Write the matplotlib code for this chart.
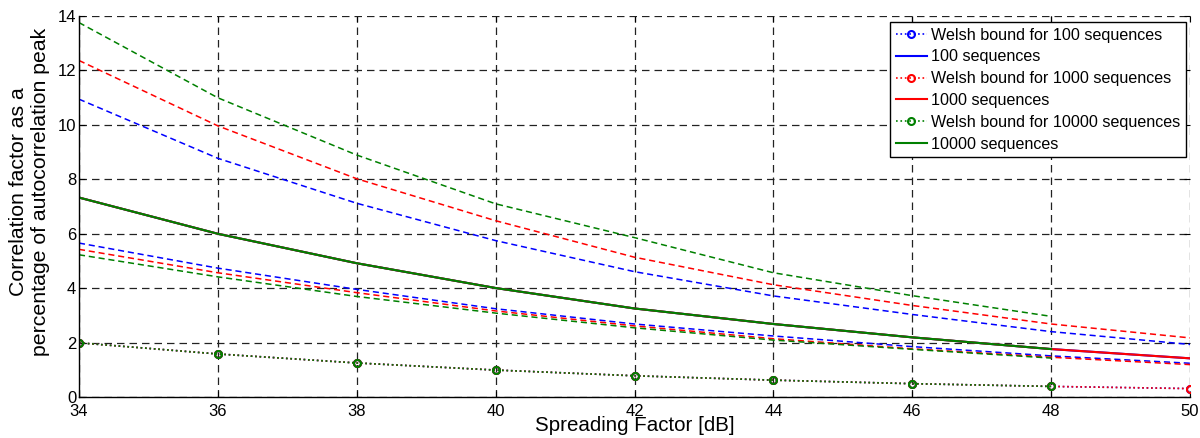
import matplotlib
matplotlib.use("Agg")
import matplotlib.pyplot as plt

plt.rcParams['font.family'] = ['Liberation Sans', 'DejaVu Sans']

sf = [34, 36, 38, 40, 42, 44, 46, 48, 50]
sf_g = [34, 36, 38, 40, 42, 44, 46, 48]

welsh_100 = [2.0, 1.59, 1.26, 1.0, 0.79, 0.63, 0.50, 0.40, 0.32]
welsh_1000 = [2.0, 1.59, 1.26, 1.0, 0.79, 0.63, 0.50, 0.40, 0.32]
welsh_10000 = [2.0, 1.59, 1.26, 1.0, 0.79, 0.63, 0.50, 0.40]

seq_100 = [7.33, 6.0, 4.92, 4.01, 3.26, 2.69, 2.20, 1.77, 1.43]
seq_1000 = [7.33, 6.0, 4.92, 4.01, 3.26, 2.69, 2.20, 1.77, 1.43]
seq_10000 = [7.33, 6.0, 4.92, 4.01, 3.26, 2.69, 2.20, 1.77]

upper_100 = [10.94, 8.77, 7.12, 5.75, 4.61, 3.72, 3.04, 2.41, 1.94]
upper_1000 = [12.36, 9.96, 8.02, 6.48, 5.14, 4.13, 3.37, 2.69, 2.18]
upper_10000 = [13.75, 10.99, 8.89, 7.10, 5.86, 4.57, 3.73, 2.97]

lower_100 = [5.66, 4.74, 3.96, 3.25, 2.69, 2.25, 1.86, 1.52, 1.25]
lower_1000 = [5.43, 4.57, 3.84, 3.17, 2.62, 2.15, 1.78, 1.47, 1.20]
lower_10000 = [5.23, 4.42, 3.70, 3.09, 2.55, 2.10, 1.76, 1.44]

labels = ['Welsh bound for 100 sequences', '100 sequences',
          'Welsh bound for 1000 sequences', '1000 sequences',
          'Welsh bound for 10000 sequences', '10000 sequences']

fig = plt.figure(figsize=(12, 4.38), dpi=100)
ax = fig.add_axes([0.0658, 0.0929, 0.9259, 0.8711])

cols = {'b': '#0000ff', 'r': '#ff0000', 'g': '#008000'}
dash = (0, (4, 2.5))

ax.plot(sf, welsh_100, linestyle=':', color=cols['b'], marker='o', mfc='none', ms=5, mew=1.5, lw=1.2, label=labels[0])
ax.plot(sf, seq_100, '-', color=cols['b'], lw=1.5, label=labels[1])
ax.plot(sf, welsh_1000, linestyle=':', color=cols['r'], marker='o', mfc='none', ms=5, mew=1.5, lw=1.2, label=labels[2])
ax.plot(sf, seq_1000, '-', color=cols['r'], lw=1.5, label=labels[3])
ax.plot(sf_g, welsh_10000, linestyle=':', color=cols['g'], marker='o', mfc='none', ms=5, mew=1.5, lw=1.2, label=labels[4])
ax.plot(sf_g, seq_10000, '-', color=cols['g'], lw=1.5, label=labels[5])

ax.plot(sf, upper_100, linestyle=dash, color=cols['b'], lw=1.1)
ax.plot(sf, lower_100, linestyle=dash, color=cols['b'], lw=1.1)
ax.plot(sf, upper_1000, linestyle=dash, color=cols['r'], lw=1.1)
ax.plot(sf, lower_1000, linestyle=dash, color=cols['r'], lw=1.1)
ax.plot(sf_g, upper_10000, linestyle=dash, color=cols['g'], lw=1.1)
ax.plot(sf_g, lower_10000, linestyle=dash, color=cols['g'], lw=1.1)

ax.set_xlim(34, 50)
ax.set_ylim(0, 14)
ax.set_xticks(sf)
ax.set_yticks(range(0, 15, 2))
ax.grid(True, color='#222222', linestyle=(0, (6, 4)), lw=0.9)
ax.tick_params(direction='in', labelsize=12, length=4, top=True, right=True)
ax.tick_params(axis='x', pad=4.5)
ax.tick_params(axis='y', pad=2)
for s in ['top', 'right']:
    ax.spines[s].set_visible(False)
for s in ['left', 'bottom']:
    ax.spines[s].set_linewidth(1.0)

ax.set_xlabel('Spreading Factor [dB]', fontsize=14.8, labelpad=-1.5)
ax.set_ylabel('Correlation factor as a\npercentage of autocorrelation peak', fontsize=15.3)
ax.yaxis.set_label_coords(-0.026, 0.538)

leg = ax.legend(loc='upper right', fontsize=11.6, frameon=True, fancybox=False,
                edgecolor='black', framealpha=1, handlelength=1.95, handletextpad=0.25,
                labelspacing=0.42, borderpad=0.35, borderaxespad=0,
                bbox_to_anchor=(0.9964, 0.9835))
leg.get_frame().set_linewidth(1.0)

fig.savefig('out.png', dpi=100)
